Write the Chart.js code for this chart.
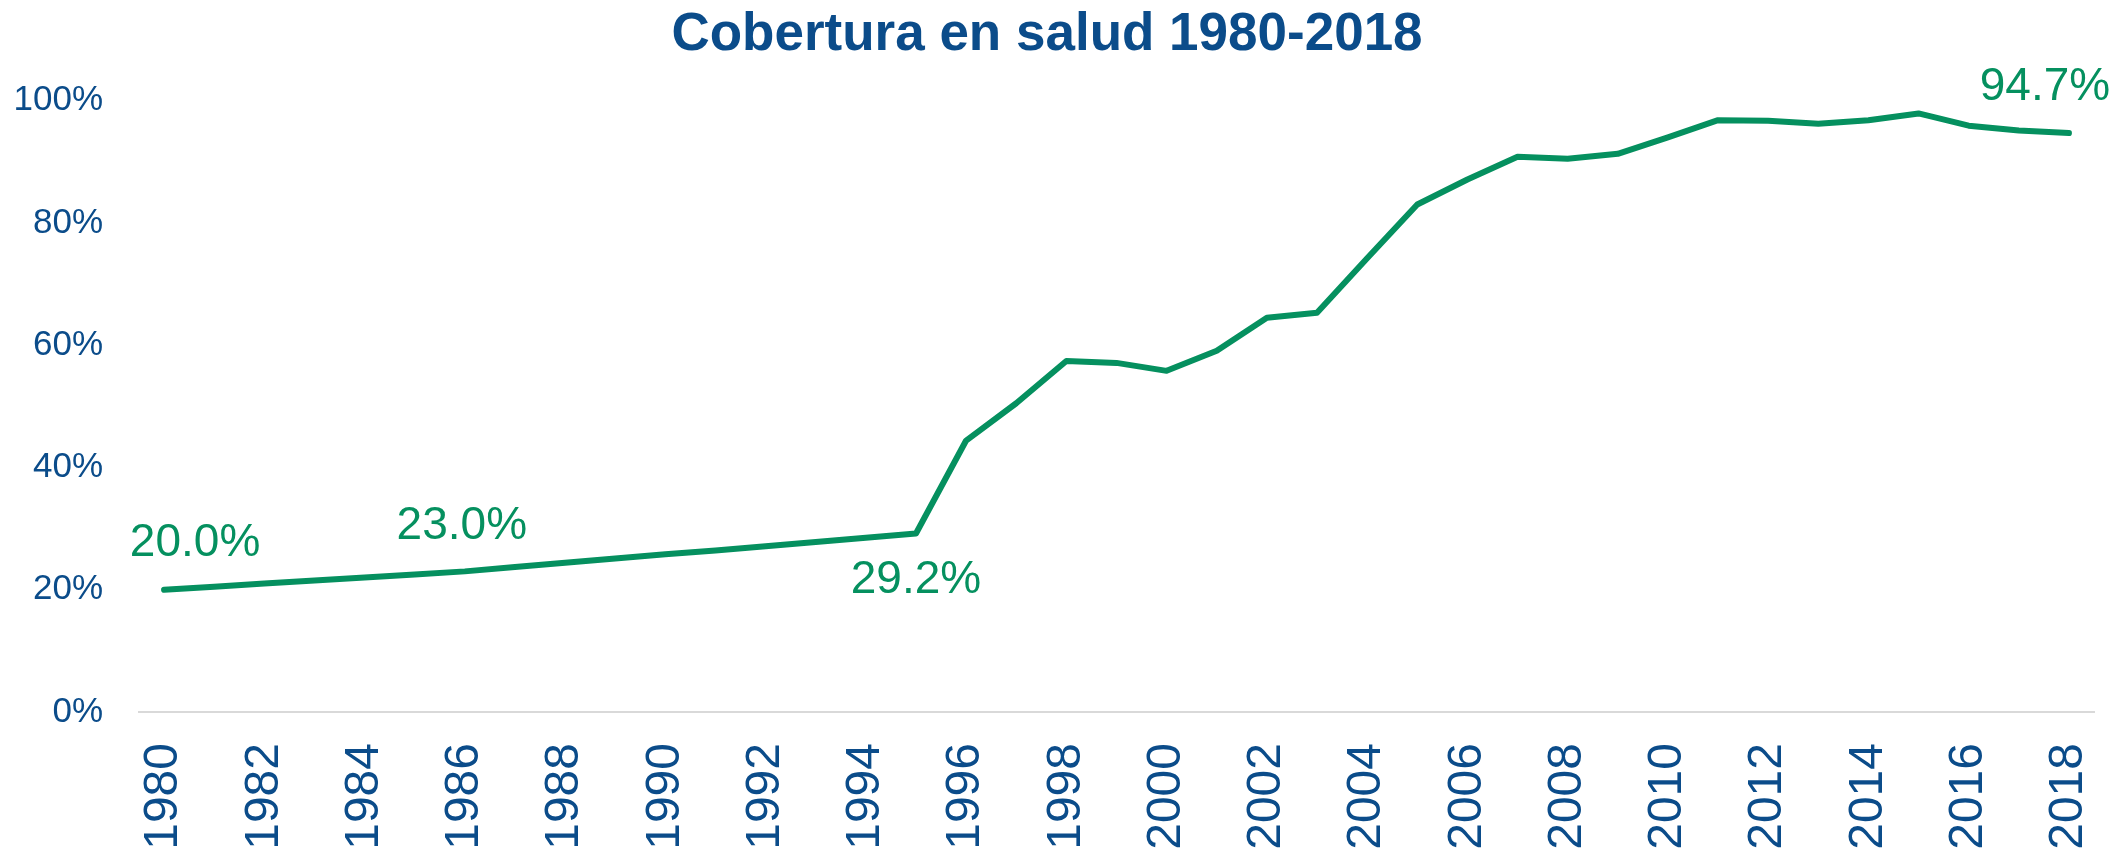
<!DOCTYPE html>
<html>
<head>
<meta charset="utf-8">
<script src="https://cdn.jsdelivr.net/npm/chart.js@4.4.1/dist/chart.umd.min.js"></script>
<style>
  html,body{margin:0;padding:0;background:#fff;overflow:hidden;}
  #c{display:block;}
</style>
</head>
<body>
<canvas id="c" width="2120" height="850"></canvas>
<script>
/* Cobertura en salud 1980-2018 */
const years = [1980,1981,1982,1983,1984,1985,1986,1987,1988,1989,1990,1991,1992,1993,1994,1995,1996,1997,1998,1999,
               2000,2001,2002,2003,2004,2005,2006,2007,2008,2009,2010,2011,2012,2013,2014,2015,2016,2017,2018];
const cobertura = [20.0,20.5,21.0,21.5,22.0,22.5,23.0,23.7,24.4,25.1,25.8,26.4,27.1,27.8,28.5,29.2,44.4,50.5,57.4,57.1,
                   55.8,59.1,64.5,65.3,74.2,83.0,87.1,90.8,90.5,91.3,94.0,96.8,96.7,96.2,96.8,97.9,95.9,95.1,94.7];
const yTicks = [0,20,40,60,80,100];
// años con etiqueta de dato
const labeled = [1980,1986,1995,2018];

const AZUL = '#0B4C8A', VERDE = '#05905F';
const ARIAL = '"Liberation Sans", Arial, sans-serif';
// desplazamiento de cada etiqueta respecto a su punto (px)
const OFF = {1980:[31,-46], 1986:[-3,-45], 1995:[0,47], 2018:[-24,-46]};

const dataLabels = {
  id:'dataLabels',
  afterDatasetsDraw(chart){
    const ctx = chart.ctx, meta = chart.getDatasetMeta(0);
    ctx.save();
    ctx.font = '46px ' + ARIAL;
    ctx.fillStyle = VERDE; ctx.textAlign = 'center'; ctx.textBaseline = 'middle';
    labeled.forEach(y=>{
      const i = years.indexOf(y), p = meta.data[i], o = OFF[y]||[0,-40];
      ctx.fillText(cobertura[i].toFixed(1)+'%', p.x+o[0], p.y+o[1]);
    });
    ctx.restore();
  }
};

new Chart(document.getElementById('c'),{
  type:'line',
  data:{labels:years, datasets:[{
    data:cobertura, borderColor:VERDE, borderWidth:6, pointRadius:0, tension:0,
    borderCapStyle:'round', borderJoinStyle:'round', fill:false }]},
  options:{
    responsive:false, animation:false, devicePixelRatio:1,
    layout:{padding:{left:0,right:26,top:0,bottom:0}},
    plugins:{
      legend:{display:false}, tooltip:{enabled:false},
      title:{display:true, text:'Cobertura en salud 1980-2018', color:AZUL,
        font:{family:ARIAL, size:53, weight:'bold', lineHeight:1.2},
        padding:{top:4,bottom:33}}
    },
    scales:{
      x:{
        offset:true,
        grid:{display:false, drawTicks:false},
        border:{display:true, color:'#d9d9d9', width:2},
        ticks:{autoSkip:false, minRotation:90, maxRotation:90, padding:31, color:AZUL,
          font:{family:ARIAL, size:48},
          callback:(v,i)=> i%2===0 ? String(years[i]) : ''},
        afterFit:s=>{s.height = 138; s.paddingLeft = 0; s.paddingRight = 0;}
      },
      y:{
        min:0, max:100,
        afterBuildTicks:s=>{s.ticks = yTicks.map(v=>({value:v}));},
        grid:{display:false, drawTicks:false},
        border:{display:false},
        ticks:{padding:36, color:AZUL, font:{family:ARIAL, size:35},
          callback:v=>v+'%'},
        afterFit:s=>{s.width = 139; s.paddingTop = 0; s.paddingBottom = 0;}
      }
    }
  },
  plugins:[dataLabels]
});
</script>
</body>
</html>
